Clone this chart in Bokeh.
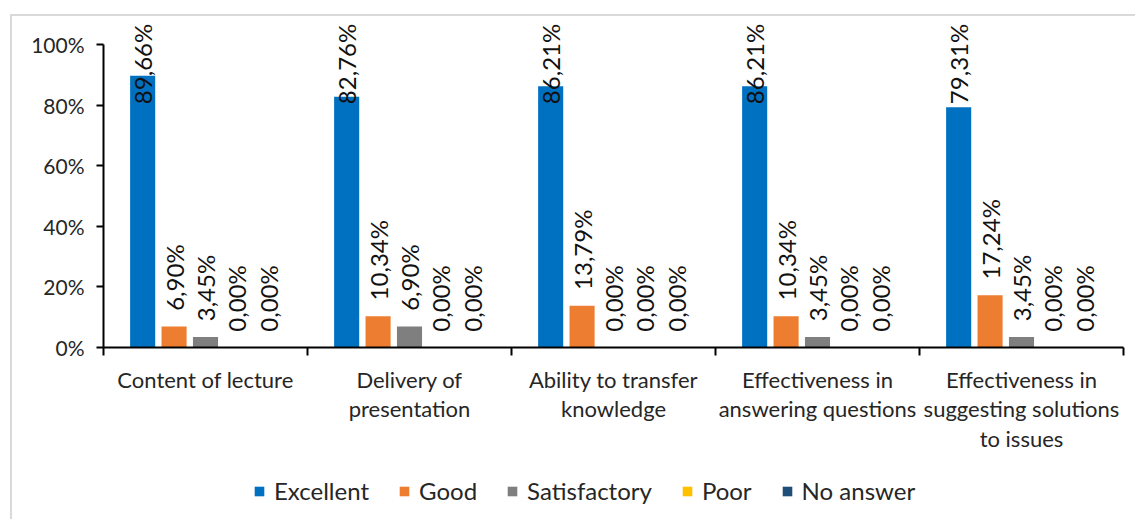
import numpy as np
from bokeh.plotting import figure
from bokeh.layouts import column
from bokeh.models import (Range1d, FixedTicker, PrintfTickFormatter, Legend,
                          LegendItem, ColumnDataSource)
from bokeh.embed import file_html
from bokeh.resources import INLINE
from bokeh.core.properties import value

# ---------------- data ----------------
categories = ["Content of lecture",
              "Delivery of\npresentation",
              "Ability to transfer\nknowledge",
              "Effectiveness in\nanswering questions",
              "Effectiveness in\nsuggesting solutions\nto issues"]
series = ["Excellent", "Good", "Satisfactory", "Poor", "No answer"]
excellent = [89.66, 82.76, 86.21, 86.21, 79.31]
good = [6.90, 10.34, 13.79, 10.34, 17.24]
satisfactory = [3.45, 6.90, 0.00, 3.45, 3.45]
poor = [0.00, 0.00, 0.00, 0.00, 0.00]
no_answer = [0.00, 0.00, 0.00, 0.00, 0.00]
y_ticks = [0, 20, 40, 60, 80, 100]
colors = ["#0070C0", "#ED7D31", "#7F7F7F", "#FFC000", "#1F4E79"]

values = [excellent, good, satisfactory, poor, no_answer]

FONT = "Lato"
TXT = "#262626"

p = figure(width=1123, height=443, x_range=Range1d(0, 5), y_range=Range1d(0, 107.9),
           output_backend="svg", toolbar_location=None,
           min_border_left=91, min_border_right=12, min_border_top=4,
           min_border_bottom=112)
p.outline_line_color = None
p.xgrid.visible = False
p.ygrid.visible = False

n_cat = len(categories)
step = 0.154
bar_w = 0.123
pad = 5.2     # label gap above bar (data units)
cap = 80.3    # labels pushed down to stay inside chart area

lab_x, lab_y, lab_t = [], [], []
sources = []
for j, (name, vals, col) in enumerate(zip(series, values, colors)):
    xs = np.arange(n_cat) + 0.5 + (j - 2) * step
    src = ColumnDataSource(dict(x=xs, top=vals))
    sources.append(src)
    p.vbar(x="x", top="top", width=bar_w, bottom=0, source=src,
           fill_color=col, line_color=None)
    for x, v in zip(xs, vals):
        lab_x.append(x)
        lab_y.append(min(v + pad, cap))
        lab_t.append(f"{v:.2f}%".replace(".", ","))

lsrc = ColumnDataSource(dict(x=lab_x, y=lab_y, t=lab_t))
p.text(x="x", y="y", text="t", source=lsrc, angle=np.pi / 2,
       text_align="left", text_baseline="middle",
       text_font=value(FONT), text_font_size="24px", text_color="#111111")

# y axis
ya = p.yaxis[0]
ya.ticker = FixedTicker(ticks=y_ticks)
ya.formatter = PrintfTickFormatter(format="%d%%")
ya.bounds = (0, 100)
ya.axis_line_color = "black"
ya.axis_line_width = 2
ya.major_tick_line_color = "black"
ya.major_tick_line_width = 2
ya.major_tick_out = 7
ya.major_tick_in = 0
ya.minor_tick_line_color = None
ya.major_label_standoff = 12
ya.major_label_text_font = FONT
ya.major_label_text_font_size = "21px"
ya.major_label_text_color = TXT

# x axis
xa = p.xaxis[0]
centers = [i + 0.5 for i in range(n_cat)]
xa.ticker = FixedTicker(ticks=centers, minor_ticks=list(range(n_cat + 1)))
xa.major_label_overrides = {c: lab for c, lab in zip(centers, categories)}
xa.axis_line_color = "black"
xa.axis_line_width = 2
xa.major_tick_line_color = None
xa.major_tick_out = 0
xa.major_tick_in = 0
xa.minor_tick_line_color = "black"
xa.minor_tick_line_width = 2
xa.minor_tick_out = 8
xa.minor_tick_in = 0
xa.major_label_standoff = 10
xa.major_label_text_font = FONT
xa.major_label_text_font_size = "22px"
xa.major_label_text_color = TXT
xa.major_label_text_line_height = 1.1

# ---------------- legend strip (same series, zero-width so only swatches show) ----------------
p2 = figure(width=1123, height=60, x_range=Range1d(0, 5), y_range=Range1d(0, 1),
            output_backend="svg", toolbar_location=None,
            x_axis_type=None, y_axis_type=None, min_border=0)
p2.outline_line_color = None
p2.xgrid.visible = False
p2.ygrid.visible = False
items = []
for name, col, src in zip(series, colors, sources):
    r = p2.vbar(x="x", top="top", width=0, bottom=0, source=src,
                fill_color=col, line_color=None)
    items.append(LegendItem(label=name, renderers=[r]))
legend = Legend(items=items, orientation="horizontal", location=(150, 14),
                glyph_width=12, glyph_height=12, label_standoff=9, spacing=29,
                padding=0, margin=0, border_line_color=None,
                background_fill_alpha=0,
                label_text_font=FONT, label_text_font_size="24px",
                label_text_color=TXT)
p2.add_layout(legend, "center")

layout = column(p, p2, spacing=0)
layout.styles = {"margin-left": "10px", "margin-top": "14px",
                 "border-left": "2px solid #d9d9d9", "border-top": "2px solid #d9d9d9"}

open("out.html", "w").write(file_html(layout, INLINE))
